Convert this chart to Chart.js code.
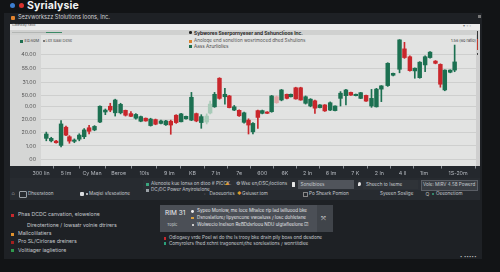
<!DOCTYPE html>
<html><head><meta charset="utf-8">
<script src="https://cdn.jsdelivr.net/npm/chart.js@4.4.1/dist/chart.umd.min.js"></script>
<style>
html,body{margin:0;padding:0;width:500px;height:272px;overflow:hidden;background:#121416;font-family:Inter,Roboto,"Noto Sans",sans-serif;}
.a{position:absolute;white-space:nowrap;line-height:1;}
.t{font-size:4.6px;color:#c6cacf;transform:translateY(-50%);}
.sq{position:absolute;width:3px;height:3px;}
</style></head><body>
<!-- window -->
<div class="a" style="left:4px;top:12.5px;width:478px;height:246px;background:#1e2125"></div>
<!-- title -->
<div class="a" style="left:10px;top:3px;width:5px;height:5px;border-radius:50%;background:#3d7fd0"></div>
<div class="a" style="left:18.5px;top:3px;width:5px;height:5px;border-radius:50%;background:#d8322f"></div>
<div class="a" style="left:27px;top:0.5px;font-size:10.5px;font-weight:700;color:#f1f2f3;letter-spacing:0.1px">Syrialysie</div>
<div class="a" style="left:478px;top:15px;width:3px;height:3px;background:#777"></div>
<!-- subtitle -->
<div class="a" style="left:11px;top:16px;width:3.5px;height:3.5px;border-radius:1px;background:#e2832e"></div>
<div class="a t" style="left:18px;top:17.8px;font-size:5.6px;color:#d3d5d8">Sezvworkszz Stolutions Ioons, Inc.</div>

<!-- panel -->
<div class="a" style="left:10px;top:23.5px;width:470px;height:143px;background:#e2e3e2"></div>
<div class="a" style="left:10px;top:23.5px;width:470px;height:6.5px;background:#ebebeb"></div>
<div class="a" style="left:10px;top:30px;width:470px;height:5px;background:#d0d1d0"></div>
<div class="a" style="left:10px;top:35px;width:31px;height:131px;background:#d5d6d5"></div>
<div class="a" style="left:476px;top:30px;width:4px;height:136px;background:#cfcfcf"></div>
<div class="a" style="left:476.5px;top:31px;width:1.5px;height:8px;background:#333"></div>
<div class="a" style="left:476.5px;top:39px;width:1.5px;height:11px;background:#c0392b"></div>
<div class="a" style="left:476.5px;top:53px;width:1.5px;height:1.5px;background:#444"></div>
<div class="a t" style="left:12px;top:26px;font-size:3.6px;color:#555">Gateway ratio</div>
<div class="a" style="left:12px;top:32px;width:50px;height:1px;background:#b3b6b4"></div>
<div class="a" style="left:46px;top:31.6px;width:16px;height:1.2px;background:#3b8a66"></div>
<div class="a t" style="left:463px;top:26px;font-size:4px;color:#777">▾ ◦ ▫</div>
<!-- legends in panel -->
<div class="sq" style="left:20px;top:39.5px;background:#1e6e50"></div>
<div class="a t" style="left:24.5px;top:41px;font-size:4px;color:#444">Ed.60M</div>
<div class="a" style="left:42.5px;top:40.2px;width:2px;height:2px;border-radius:50%;background:#555"></div>
<div class="a t" style="left:45.5px;top:41px;font-size:4px;color:#555">Lex Baal Dese</div>
<div class="a" style="left:189px;top:31.2px;width:2.6px;height:2.6px;border-radius:50%;background:#222"></div>
<div class="a t" style="left:194px;top:32.5px;font-size:4.8px;font-weight:700;color:#2a2a2a">Sybwores Sserpornyeser and Sshunclioos Inc.</div>
<div class="sq" style="left:189px;top:39.5px;background:#d9822e"></div>
<div class="a t" style="left:194px;top:41px;font-size:4.6px;color:#555">Anoloqe end soneltion wosrtmoced dhed Sshulions</div>
<div class="sq" style="left:189px;top:45.3px;background:#1e6e50"></div>
<div class="a t" style="left:194px;top:46.8px;font-size:4.6px;color:#444">Aass Azurliolies</div>
<div class="a t" style="left:451px;top:41px;font-size:3.8px;color:#333">1.56 (60 ratio)</div>

<!-- under plot bands -->
<div class="a" style="left:10px;top:166px;width:470px;height:12px;background:#24282d"></div>
<div class="a" style="left:10px;top:178px;width:470px;height:22px;background:#272b30"></div>
<div class="a" style="left:143px;top:180px;width:337px;height:9.5px;background:#2b2f35"></div>

<canvas id="c" width="476" height="144" class="a" style="left:0;top:36px"></canvas>

<!-- controls -->
<div class="a t" style="left:11.5px;top:194px;font-size:5.5px;color:#bbb">⌂</div>
<div class="a" style="left:19px;top:191px;width:6px;height:4.5px;border:0.8px solid #9aa0a6;border-radius:1px"></div>
<div class="a t" style="left:28px;top:194px">Dheeratoon</div>
<div class="a" style="left:80px;top:191.5px;width:4px;height:4px;border-radius:1px;background:#d9dcdf"></div>
<div class="a" style="left:85.5px;top:192.8px;width:2px;height:2px;border-radius:50%;background:#ddd"></div>
<div class="a t" style="left:89px;top:194px">Maqiei sfesoatione</div>
<div class="sq" style="left:146px;top:182.5px;background:#3aa57e"></div>
<div class="a t" style="left:151px;top:184px">Alenoote kue Ionsa on dtoo # PICCK.</div>
<div class="a t" style="left:225px;top:184px;font-size:4.2px;color:#e09a2a">▲</div>
<div class="sq" style="left:146px;top:188.5px;background:#9aa0a6"></div>
<div class="a t" style="left:151px;top:190px">DC/DC Power Anyirotelone</div>
<div class="a t" style="left:204px;top:194px;font-size:4.2px;color:#999">▫</div>
<div class="a t" style="left:209.5px;top:194px">Daoeuortes</div>
<div class="a t" style="left:235.5px;top:184px;font-size:4.6px;color:#ddd">⚙</div>
<div class="a t" style="left:241px;top:184px">Wse en/DSC/loctions</div>
<div class="a t" style="left:237px;top:194px;font-size:4.2px;color:#e09a2a">◆</div>
<div class="a t" style="left:242px;top:194px">Gsiuser.tom</div>
<div class="a" style="left:292px;top:182px;width:3px;height:4.5px;background:#e6e6e6;border-radius:0.5px"></div>
<div class="a" style="left:298px;top:180px;width:56px;height:9px;background:#50545b"></div>
<div class="a t" style="left:300.5px;top:184.6px">Sonelbioes</div>
<div class="a" style="left:358px;top:182.3px;width:3px;height:4px;border-radius:50% 50% 50% 0;background:#e6e6e6"></div>
<div class="a" style="left:363px;top:180px;width:55px;height:9px;background:#2f3338"></div>
<div class="a t" style="left:366px;top:184.6px">Sheech to Iseme</div>
<div class="a" style="left:420.5px;top:180px;width:55px;height:8.5px;background:#3a3e44;border:0.6px solid #5a5e65"></div>
<div class="a t" style="left:423px;top:184.6px">Vole: MIRV 4.58 Powerd</div>
<div class="a" style="left:303px;top:192px;width:3px;height:3px;border:0.7px solid #888"></div>
<div class="a t" style="left:309px;top:194px">Po Sheark Pomion</div>
<div class="a t" style="left:380px;top:194px">Syeeen Soslige</div>
<div class="a t" style="left:425.5px;top:194px;font-size:5px;color:#bbb">Q</div>
<div class="a" style="left:431.5px;top:193px;width:2px;height:2px;border-radius:50%;background:#3aa57e"></div>
<div class="a t" style="left:436px;top:194px">Oeeonetiom</div>

<!-- bottom list -->
<div class="sq" style="left:11px;top:213.5px;background:#c8282d"></div>
<div class="a t" style="left:18px;top:215px;font-size:5.2px">Phas DCDC canvation, elowelone</div>
<div class="a t" style="left:27px;top:226px;font-size:5.2px">Direotertione / lowsatr volnie dtrirers</div>
<div class="sq" style="left:11px;top:232.5px;background:#e0922e"></div>
<div class="a t" style="left:18px;top:234px;font-size:5.2px">Mallcolilatiers</div>
<div class="sq" style="left:11px;top:240.8px;background:#a3201f"></div>
<div class="a t" style="left:18px;top:242.3px;font-size:5.2px">Pro SL/Cirlorae dreiners</div>
<div class="sq" style="left:11px;top:249.2px;background:#2f9a4d"></div>
<div class="a t" style="left:18px;top:250.7px;font-size:5.2px">Volitiager iaglietiore</div>

<!-- RIM box -->
<div class="a" style="left:160px;top:205px;width:173px;height:27px;background:#4b4f56"></div>
<div class="a" style="left:317px;top:205px;width:16px;height:27px;background:#40444a"></div>
<div class="a t" style="left:321px;top:217.5px;font-size:6px;color:#e8e8e8">⤧</div>
<div class="a t" style="left:165px;top:212.5px;font-size:6.5px;color:#eceff2">RIM 31</div>
<div class="a t" style="left:167px;top:225px;font-size:4px;color:#cfd2d6">Topic</div>
<div class="a" style="left:191px;top:209.8px;width:2.8px;height:2.8px;border-radius:50%;background:#eee"></div>
<div class="a t" style="left:197px;top:211.3px;font-size:4.5px;color:#e4e6e9">Sypeo Monlow, me loce Mhalce rip lad lailluood bke</div>
<div class="a" style="left:191.2px;top:216.9px;width:2.6px;height:2.6px;background:#d9a040"></div>
<div class="a t" style="left:197px;top:218.3px;font-size:4.5px;color:#e4e6e9">Dsnoslatlore/ lipyencone vwoaluss / losc dohletane</div>
<div class="a" style="left:191.5px;top:223.8px;width:2px;height:2px;background:#ccc"></div>
<div class="a t" style="left:197px;top:225px;font-size:4.5px;color:#e4e6e9">Wolwecio Inelson ReBDdsrloou NDU ulgtafleelone ☑</div>
<div class="a" style="left:163.5px;top:237px;width:2.6px;height:2.6px;background:#c8282d"></div>
<div class="a t" style="left:169px;top:238.3px;font-size:4.6px">Odlogaey vrde Poel wi do the ls trooy bke drain pily boas ond desdone</div>
<div class="a" style="left:163.5px;top:242.3px;width:2.6px;height:2.6px;background:#2aa07a"></div>
<div class="a t" style="left:169px;top:243.6px;font-size:4.6px">Comyrolers fhed xchnt tragoneent/the soreleations / wonrtitdiee</div>
<div class="a t" style="left:460px;top:256.5px;font-size:4px;color:#bbb;letter-spacing:0.3px">▪ ▪▪▪▪▪</div>

<script>
// candle positions (in candle steps) and OHLC values
const positions = [0,1.0,2.0,3.0,4.0,4.7,5.7,6.7,7.7,8.7,9.8,10.9,12.0,13.0,14.0,15.1,16.1,17.2,18.2,19.2,20.2,21.2,22.2,23.3,24.3,25.3,26.4,27.4,28.4,29.5,30.5,31.5,32.6,33.3,34.2,35.2,36.3,37.2,38.2,39.2,40.2,41.1,42.0,43.0,43.9,44.9,45.8,46.8,47.8,48.9,49.7,50.7,51.7,52.7,53.7,54.6,55.6,56.6,57.7,58.7,59.8,60.9,61.9,62.9,63.9,65.0,66.1,67.1,68.1,69.4,70.5,71.8,72.8,73.9,74.9,75.9,77.0,78.0,79.1,80.1,81.0,82.1,83.0];
const openV  = [17.7,16.8,16.7,15.1,21.8,18.3,16.6,17.4,18.3,21.6,20.8,23.7,27.4,29.5,27.1,27.1,28.0,26.8,25.1,24.0,25.1,22.4,24.6,23.2,22.7,24.0,26.2,23.8,24.9,24.4,26.8,23.5,23.7,27.0,29.3,39.8,33.0,33.3,28.1,28.0,23.6,24.4,20.1,27.9,26.9,27.4,27.5,33.0,31.8,33.9,33.0,36.3,36.3,30.6,29.6,31.5,29.0,30.0,28.1,27.9,32.4,33.4,34.6,33.4,32.4,33.5,29.6,29.3,35.8,37.1,40.9,43.1,50.6,47.7,42.5,40.0,44.7,47.4,46.1,44.9,35.5,42.0,42.8];
const highV  = [20.0,18.1,17.0,24.2,22.2,18.7,17.5,19.4,21.3,22.5,22.4,29.7,28.5,30.6,32.1,30.6,28.1,27.5,26.8,25.9,25.2,25.1,24.8,24.4,24.3,24.4,26.4,26.9,25.9,34.6,27.0,26.4,26.7,31.4,34.6,40.0,36.1,33.5,29.8,28.2,27.4,24.9,23.5,28.1,28.1,27.5,33.5,33.3,35.7,34.0,34.0,36.5,36.5,33.3,32.3,31.8,30.1,30.1,31.1,29.7,34.9,35.7,34.7,34.0,34.6,33.6,35.7,36.1,37.1,45.5,41.7,54.0,53.0,48.0,43.6,45.9,48.0,49.6,46.3,45.1,42.9,42.9,52.0];
const lowV   = [16.8,16.4,15.9,14.6,18.7,15.9,16.1,16.8,17.6,19.3,20.5,23.5,26.4,27.5,25.9,26.7,25.9,25.7,24.8,23.8,24.0,22.2,22.7,23.0,22.5,19.2,23.2,23.7,24.8,24.2,23.8,21.4,23.0,26.7,29.1,32.1,30.3,28.9,27.9,25.8,23.3,19.3,19.3,21.4,26.7,26.8,27.3,30.6,31.5,32.2,32.9,32.1,31.7,30.3,29.3,26.9,28.9,27.6,27.9,27.8,29.6,30.0,33.5,33.3,32.3,31.3,29.1,29.2,31.2,36.8,40.7,41.8,47.1,42.4,39.8,39.8,42.2,47.2,45.1,36.5,35.2,41.8,42.2];
const closeV = [19.3,17.7,16.1,23.0,18.9,16.7,17.1,18.9,20.8,20.3,22.1,29.5,28.1,28.1,31.8,30.2,26.2,25.8,26.5,25.7,24.1,24.8,22.9,24.1,24.1,22.6,23.5,26.7,25.8,32.8,24.1,25.7,25.9,30.3,33.9,32.4,33.9,29.0,29.3,26.0,27.1,22.6,23.2,25.4,27.9,26.9,33.3,30.8,35.5,32.4,33.9,32.2,31.8,33.0,32.1,28.8,30.0,27.8,30.8,29.6,34.3,35.5,33.6,33.9,34.5,31.4,32.4,35.8,37.0,45.3,41.6,53.9,47.4,42.6,43.5,45.7,47.7,49.4,45.3,37.6,42.8,42.8,45.8];
const fadedCandles = [32, 33, 47];

const yTickValues = [9.8, 14.9, 19.9, 24.7, 29.5, 33.4, 38.3, 43.3, 48.5];
const yTickLabels = ["00", "1.00", "20.00", "20.00", "0.00", "50.00", "31.00", "55.00", "40.00"];
const xTickValues = [-1.07, 4.0, 9.3, 14.7, 19.9, 25.0, 29.7, 34.5, 39.2, 43.9, 48.5, 53.1, 57.9, 62.8, 67.7, 72.4, 76.8, 83.7];
const xTickLabels = ["300 lin", "5 lm", "Cy Man", "Beroe", "10ls", "9 lm", "KB", "7 ln", "7e", "600", "6K", "2 ln", "6 lm", "7 K", "2 ln", "4 ll", "1lm", "1S-20m"];

const UP = '#1c7051', DOWN = '#c9272c', UP_PALE = '#a8cbb8', DOWN_PALE = '#e2a6a6';
const colors = positions.map((p, i) => {
  const up = closeV[i] >= openV[i];
  if (fadedCandles.includes(i)) return up ? UP_PALE : DOWN_PALE;
  return up ? UP : DOWN;
});
const wicks = positions.map((p, i) => ({x: p, y: [lowV[i], highV[i]]}));
const bodies = positions.map((p, i) => ({x: p, y: [openV[i], closeV[i]]}));

const FONT = 'Inter, Roboto, sans-serif';
new Chart(document.getElementById('c'), {
  type: 'bar',
  data: {datasets: [
    {data: wicks, backgroundColor: colors, barThickness: 1, grouped: false, order: 2},
    {data: bodies, backgroundColor: colors, barThickness: 3.8, grouped: false, order: 1}
  ]},
  options: {
    animation: false, responsive: false, maintainAspectRatio: false,
    layout: {padding: 0},
    plugins: {legend: {display: false}, tooltip: {enabled: false}},
    scales: {
      x: {
        type: 'linear', min: -1.077, max: 87.34, offset: false,
        afterBuildTicks: s => { s.ticks = xTickValues.map(v => ({value: v})); },
        afterFit: s => { s.height = 14; s.paddingLeft = 0; s.paddingRight = 0; },
        ticks: {callback: (v, i) => xTickLabels[i], autoSkip: false, maxRotation: 0, color: '#b6bac0', font: {size: 5.3, family: FONT}, padding: 2},
        grid: {drawOnChartArea: false, tickLength: 2.5, color: '#8d9298'},
        border: {display: false}
      },
      y: {
        min: 7.54, max: 55.33,
        afterBuildTicks: s => { s.ticks = yTickValues.map(v => ({value: v})); },
        afterFit: s => { s.width = 41; s.paddingTop = 0; s.paddingBottom = 0; },
        ticks: {callback: (v, i) => yTickLabels[i], autoSkip: false, color: '#555', font: {size: 5.3, family: FONT}, padding: 5},
        grid: {color: '#c9cac9', lineWidth: 0.8, drawTicks: false},
        border: {display: false}
      }
    }
  }
});
</script>
</body></html>
